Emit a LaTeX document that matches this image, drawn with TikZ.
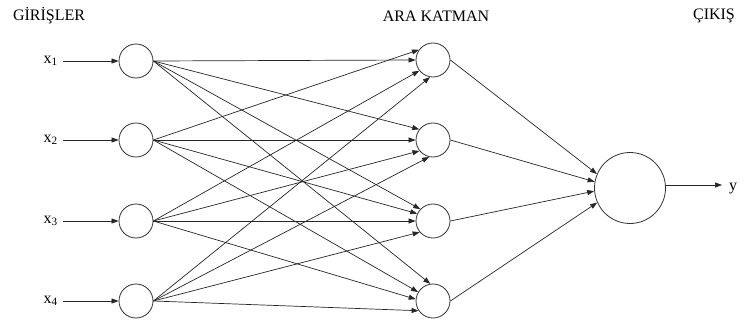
\documentclass[tikz,border=0pt]{standalone}
\usepackage{fontspec}
\setmainfont{Liberation Serif}
\usetikzlibrary{arrows.meta}
\begin{document}
\begin{tikzpicture}[x=1pt,y=-1pt,
  neuron/.style={circle,draw=black!80,line width=0.8pt,inner sep=0pt,minimum size=34pt},
  bigneuron/.style={circle,draw=black!80,line width=0.8pt,inner sep=0pt,minimum size=71pt},
  conn/.style={draw=black!85,line width=0.7pt,-{Triangle[length=7pt,width=5pt]}},
  lbl/.style={inner sep=0pt,font=\fontsize{16}{19}\selectfont}]
\useasboundingbox (0,0) rectangle (750,321);
% headers
\node[lbl] (hin) at (49,16) {GİRİŞLER};
\node[lbl] (hmid) at (436,16) {ARA KATMAN};
\node[lbl] (hout) at (714,16) {ÇIKIŞ};
% input neurons
\node[neuron] (i1) at (136,61) {};
\node[neuron] (i2) at (136,140) {};
\node[neuron] (i3) at (136,221) {};
\node[neuron] (i4) at (136,301) {};
% hidden neurons
\node[neuron] (h1) at (433,60) {};
\node[neuron] (h2) at (433,140) {};
\node[neuron] (h3) at (433,221) {};
\node[neuron] (h4) at (433,301) {};
% output neuron
\node[bigneuron] (o) at (630,188) {};
% input labels
\node[lbl,anchor=east] (x1) at (58,61) {x\textsubscript{1}};
\node[lbl,anchor=east] (x2) at (58,140) {x\textsubscript{2}};
\node[lbl,anchor=east] (x3) at (58,221) {x\textsubscript{3}};
\node[lbl,anchor=east] (x4) at (58,301) {x\textsubscript{4}};
\node[lbl,anchor=base west] (y) at (729,190) {y};
\coordinate (yend) at (722,185);
% input arrows
\draw[conn] (x1.east) ++(5,0) -- (i1.west);
\draw[conn] (x2.east) ++(5,0) -- (i2.west);
\draw[conn] (x3.east) ++(5,0) -- (i3.west);
\draw[conn] (x4.east) ++(5,0) -- (i4.west);
% input -> hidden
\draw[conn] (i1.east) -- (h1.180);
\draw[conn] (i2.east) -- (h1.144);
\draw[conn] (i3.east) -- (h1.218);
\draw[conn] (i4.east) -- (h1.260);
\draw[conn] (i1.east) -- (h2.142);
\draw[conn] (i2.east) -- (h2.180);
\draw[conn] (i3.east) -- (h2.219);
\draw[conn] (i4.east) -- (h2.257);
\draw[conn] (i1.east) -- (h3.137);
\draw[conn] (i2.east) -- (h3.155);
\draw[conn] (i3.east) -- (h3.180);
\draw[conn] (i4.east) -- (h3.220);
\draw[conn] (i1.east) -- (h4.99);
\draw[conn] (i2.east) -- (h4.149);
\draw[conn] (i3.east) -- (h4.174);
\draw[conn] (i4.east) -- (h4.214);
% hidden -> output
\draw[conn] (h1.east) -- (o.157);
\draw[conn] (h2.east) -- (o.170);
\draw[conn] (h3.east) -- (o.185);
\draw[conn] (h4.east) -- (o.204);
% output arrow
\draw[conn] (o.east |- yend) -- (yend);
\end{tikzpicture}
\end{document}
